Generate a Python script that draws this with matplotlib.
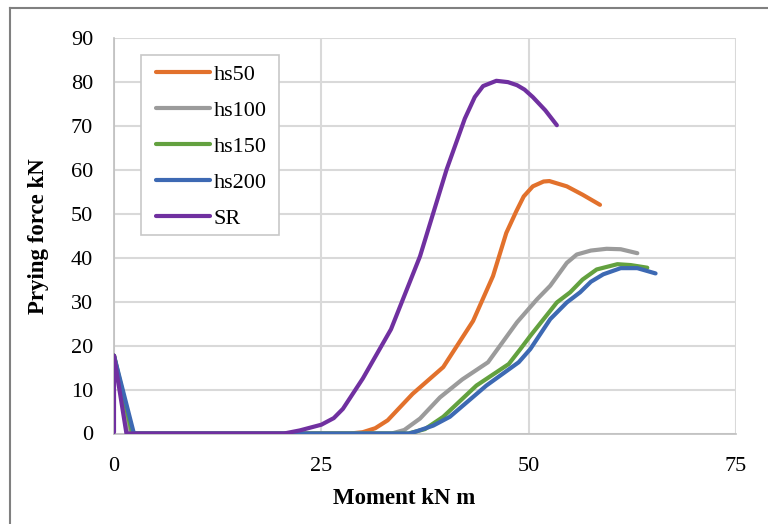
import matplotlib
matplotlib.use("Agg")
import matplotlib.pyplot as plt
from matplotlib.lines import Line2D
from matplotlib.patches import Rectangle

plt.rcParams['font.family'] = ['Liberation Serif', 'DejaVu Serif']

# Data (Moment kN m vs Prying force kN)
hs50_x = [0, 1.8, 10, 20, 28.5, 30, 31.5, 33, 36, 39.7, 43.3, 45.7, 47.3, 48.5, 49.4, 50.5, 51.8, 52.5, 54.6, 56.5, 58.6]
hs50_y = [17.7, 0, 0, 0, 0, 0.3, 1.2, 3.0, 9, 15.1, 25.6, 35.8, 45.6, 50.5, 53.9, 56.2, 57.3, 57.4, 56.2, 54.3, 52.0]

hs100_x = [0, 2, 10, 20, 30, 33.5, 35, 36.9, 39.3, 42, 45.1, 48.6, 51.0, 52.6, 54.6, 55.8, 57.5, 59.4, 61.1, 63.1]
hs100_y = [17.7, 0, 0, 0, 0, 0, 0.8, 3.4, 8.2, 12.3, 16.2, 25.3, 30.5, 33.6, 38.8, 40.7, 41.6, 42.0, 41.9, 41.0]

hs150_x = [0, 2.2, 10, 20, 30, 35.5, 37.5, 39.7, 43.7, 47.6, 49.0, 50.2, 53.4, 55.0, 56.5, 58.2, 60.7, 62.3, 64.3]
hs150_y = [17.7, 0, 0, 0, 0, 0, 1.0, 3.8, 10.9, 15.8, 19.2, 22.2, 29.8, 32.1, 35.0, 37.3, 38.5, 38.3, 37.7]

hs200_x = [0, 2.4, 10, 20, 30, 35.6, 36.5, 38.5, 40.5, 44.9, 48.8, 50.2, 52.6, 54.6, 56.2, 57.5, 59.0, 61.1, 63.1, 65.3]
hs200_y = [17.7, 0, 0, 0, 0, 0, 0.5, 1.8, 3.8, 10.9, 16.2, 19.2, 26.0, 29.8, 32.1, 34.5, 36.2, 37.6, 37.6, 36.4]

sr_x = [0, 0, 1.5, 10, 20.5, 22.4, 25, 26.5, 27.6, 30, 33.4, 36.9, 40.1, 42.3, 43.5, 44.5, 46.1, 47.5, 48.6, 49.5, 50.5, 52, 53.4]
sr_y = [0.3, 17.7, 0, 0, 0, 0.7, 2.0, 3.5, 5.6, 12.5, 23.7, 40.3, 60, 71.6, 76.5, 79, 80.2, 79.9, 79.2, 78.2, 76.5, 73.5, 70.1]

series_names = ['hs50', 'hs100', 'hs150', 'hs200', 'SR']
colors = ['#E2712C', '#9B9B9B', '#63A13F', '#3D69B3', '#7030A0']
x_ticks = [0, 25, 50, 75]
y_ticks = [0, 10, 20, 30, 40, 50, 60, 70, 80, 90]

fig = plt.figure(figsize=(7.68, 5.24), dpi=100)
ax = fig.add_axes([114/768, 1-433.5/524, (736-114)/768, (433.5-37.7)/524])

data = [(hs50_x, hs50_y), (hs100_x, hs100_y), (hs150_x, hs150_y), (hs200_x, hs200_y), (sr_x, sr_y)]
for (xs, ys), name, c in zip(data, series_names, colors):
    ax.plot(xs, ys, color=c, lw=3.0, label=name, solid_joinstyle='round', solid_capstyle='round', zorder=3)

ax.set_xlim(0, 75)
ax.set_ylim(0, 90)
ax.set_xticks(x_ticks)
ax.set_yticks(y_ticks)
ax.grid(True, color='#D9D9D9', lw=1.5, zorder=0)
ax.set_axisbelow(True)
for s in ['top', 'right']:
    ax.spines[s].set_visible(False)
for s in ['left', 'bottom']:
    ax.spines[s].set_color('#BFBFBF')
    ax.spines[s].set_linewidth(1.2)
ax.tick_params(length=0, labelsize=16, colors='black')
ax.tick_params(axis='x', pad=17)
ax.tick_params(axis='y', pad=15)

# legend frame
ax.add_patch(Rectangle((0.0434, 0.5015), 0.2219, 0.4548, transform=ax.transAxes,
                       facecolor='white', edgecolor='#C8C8C8', lw=1.2, zorder=4))
leg = ax.legend(loc='upper left', bbox_to_anchor=(0.0675, 0.933), frameon=False,
                fontsize=16, borderpad=0, labelspacing=0.7, handlelength=2.45,
                handletextpad=0.15, borderaxespad=0)
leg.set_zorder(5)

fig.text(404/768, 1-499/524, 'Moment kN m', ha='center', va='center', fontsize=16.5, fontweight='bold')
fig.text(38.5/768, 1-236/524, 'Prying force kN', ha='center', va='center', rotation=90,
         fontsize=16.5, fontweight='bold')

# outer border
fig.add_artist(Line2D([10/768, 1], [1-8/524, 1-8/524], color='#808080', lw=1.5, transform=fig.transFigure))
fig.add_artist(Line2D([10/768, 10/768], [0, 1-8/524], color='#808080', lw=1.5, transform=fig.transFigure))

fig.savefig('out.png', dpi=100)
